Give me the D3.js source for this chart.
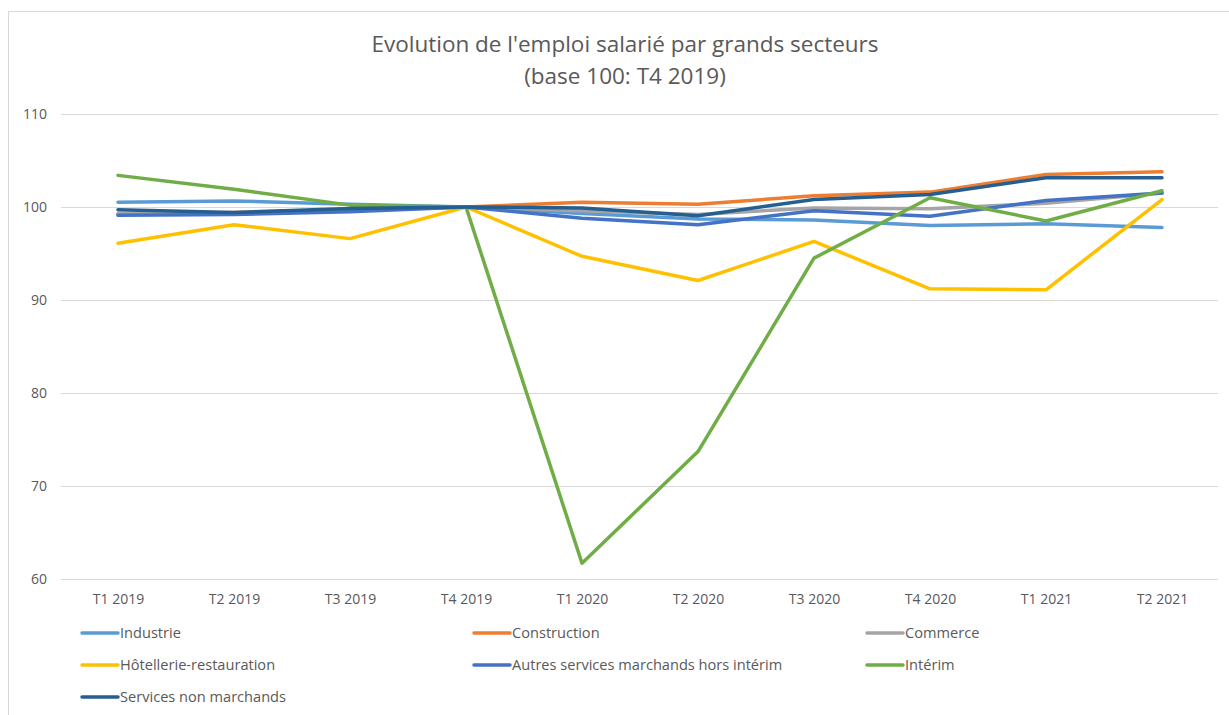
<!DOCTYPE html>
<html>
<head>
<meta charset="utf-8">
<script src="https://cdn.jsdelivr.net/npm/d3@7"></script>
<style>
  body { margin: 0; background: #fff; }
  svg text { font-family: "Open Sans", "Noto Sans", sans-serif; }
</style>
</head>
<body>
<svg id="chart" width="1229" height="715"></svg>
<script>
const width = 1229;
const height = 715;

const quarters = ["T1 2019", "T2 2019", "T3 2019", "T4 2019", "T1 2020", "T2 2020", "T3 2020", "T4 2020", "T1 2021", "T2 2021"];
const yTicks = [60, 70, 80, 90, 100, 110];

const industrie     = [100.5, 100.65, 100.3, 100, 99.3, 98.7, 98.6, 98.0, 98.2, 97.8];
const construction  = [99.2, 99.4, 99.7, 100, 100.5, 100.3, 101.2, 101.6, 103.5, 103.8];
const commerce      = [99.3, 99.3, 99.6, 100, 99.6, 99.2, 99.9, 99.8, 100.4, 101.5];
const hotellerie    = [96.1, 98.1, 96.6, 100, 94.7, 92.1, 96.3, 91.2, 91.1, 100.8];
const autresServ    = [99.1, 99.2, 99.5, 100, 98.8, 98.1, 99.6, 99.0, 100.7, 101.5];
const interim       = [103.4, 101.9, 100.2, 100, 61.7, 73.7, 94.5, 101.0, 98.5, 101.75];
const nonMarchands  = [99.7, 99.4, 99.85, 100, 99.9, 99.05, 100.8, 101.35, 103.15, 103.15];

const series = [
  { name: "Industrie", values: industrie, color: "#5B9BD5" },
  { name: "Construction", values: construction, color: "#ED7D31" },
  { name: "Commerce", values: commerce, color: "#A5A5A5" },
  { name: "Hôtellerie-restauration", values: hotellerie, color: "#FFC000" },
  { name: "Autres services marchands hors intérim", values: autresServ, color: "#4472C4" },
  { name: "Intérim", values: interim, color: "#70AD47" },
  { name: "Services non marchands", values: nonMarchands, color: "#255E91" }
];

const svg = d3.select("#chart");

// chart frame (right and bottom edges fall outside the picture)
svg.append("rect")
  .attr("x", 8.5).attr("y", 11.5)
  .attr("width", width + 20).attr("height", height + 20)
  .attr("fill", "#fff").attr("stroke", "#D9D9D9").attr("stroke-width", 1);

// title
svg.append("text")
  .attr("x", 625).attr("y", 52)
  .attr("text-anchor", "middle")
  .attr("font-size", 22.5).attr("fill", "#595959")
  .text("Evolution de l'emploi salarié par grands secteurs");
svg.append("text")
  .attr("x", 625).attr("y", 84)
  .attr("text-anchor", "middle")
  .attr("font-size", 22.5).attr("fill", "#595959")
  .text("(base 100: T4 2019)");

const x = d3.scalePoint()
  .domain(quarters)
  .range([60, 1220])
  .padding(0.5);

const y = d3.scaleLinear()
  .domain([60, 110])
  .range([579, 114]);

// gridlines + y labels
svg.append("g")
  .attr("transform", "translate(61,0)")
  .call(d3.axisLeft(y).tickValues(yTicks).tickSize(-1157).tickPadding(14))
  .call(g => g.select(".domain").remove())
  .call(g => g.selectAll(".tick line").attr("stroke", "#D9D9D9").attr("stroke-width", 1))
  .call(g => g.selectAll(".tick text")
    .attr("fill", "#595959").attr("font-size", 14)
    .style("font-family", "'Open Sans', 'Noto Sans', sans-serif"));

// x labels
svg.append("g")
  .attr("transform", "translate(0,579)")
  .call(d3.axisBottom(x).tickSize(0).tickPadding(15))
  .call(g => g.select(".domain").remove())
  .call(g => g.selectAll(".tick text")
    .attr("fill", "#595959").attr("font-size", 14)
    .style("font-family", "'Open Sans', 'Noto Sans', sans-serif"));

const line = d3.line()
  .x((d, i) => x(quarters[i]))
  .y(d => y(d));

svg.append("g")
  .selectAll("path")
  .data(series)
  .join("path")
  .attr("d", d => line(d.values))
  .attr("fill", "none")
  .attr("stroke", d => d.color)
  .attr("stroke-width", 3.5)
  .attr("stroke-linejoin", "round")
  .attr("stroke-linecap", "round");

// legend, 3 columns
const colX = [82, 474, 867];
const rowY = [633, 665, 697];
const legend = svg.append("g")
  .selectAll("g")
  .data(series)
  .join("g")
  .attr("transform", (d, i) => `translate(${colX[i % 3]},${rowY[Math.floor(i / 3)]})`);

legend.append("line")
  .attr("x1", 0).attr("x2", 36)
  .attr("stroke", d => d.color)
  .attr("stroke-width", 3.5)
  .attr("stroke-linecap", "round");

legend.append("text")
  .attr("x", 38).attr("dy", "0.35em")
  .attr("font-size", 14.6).attr("fill", "#595959")
  .text(d => d.name);
</script>
</body>
</html>
